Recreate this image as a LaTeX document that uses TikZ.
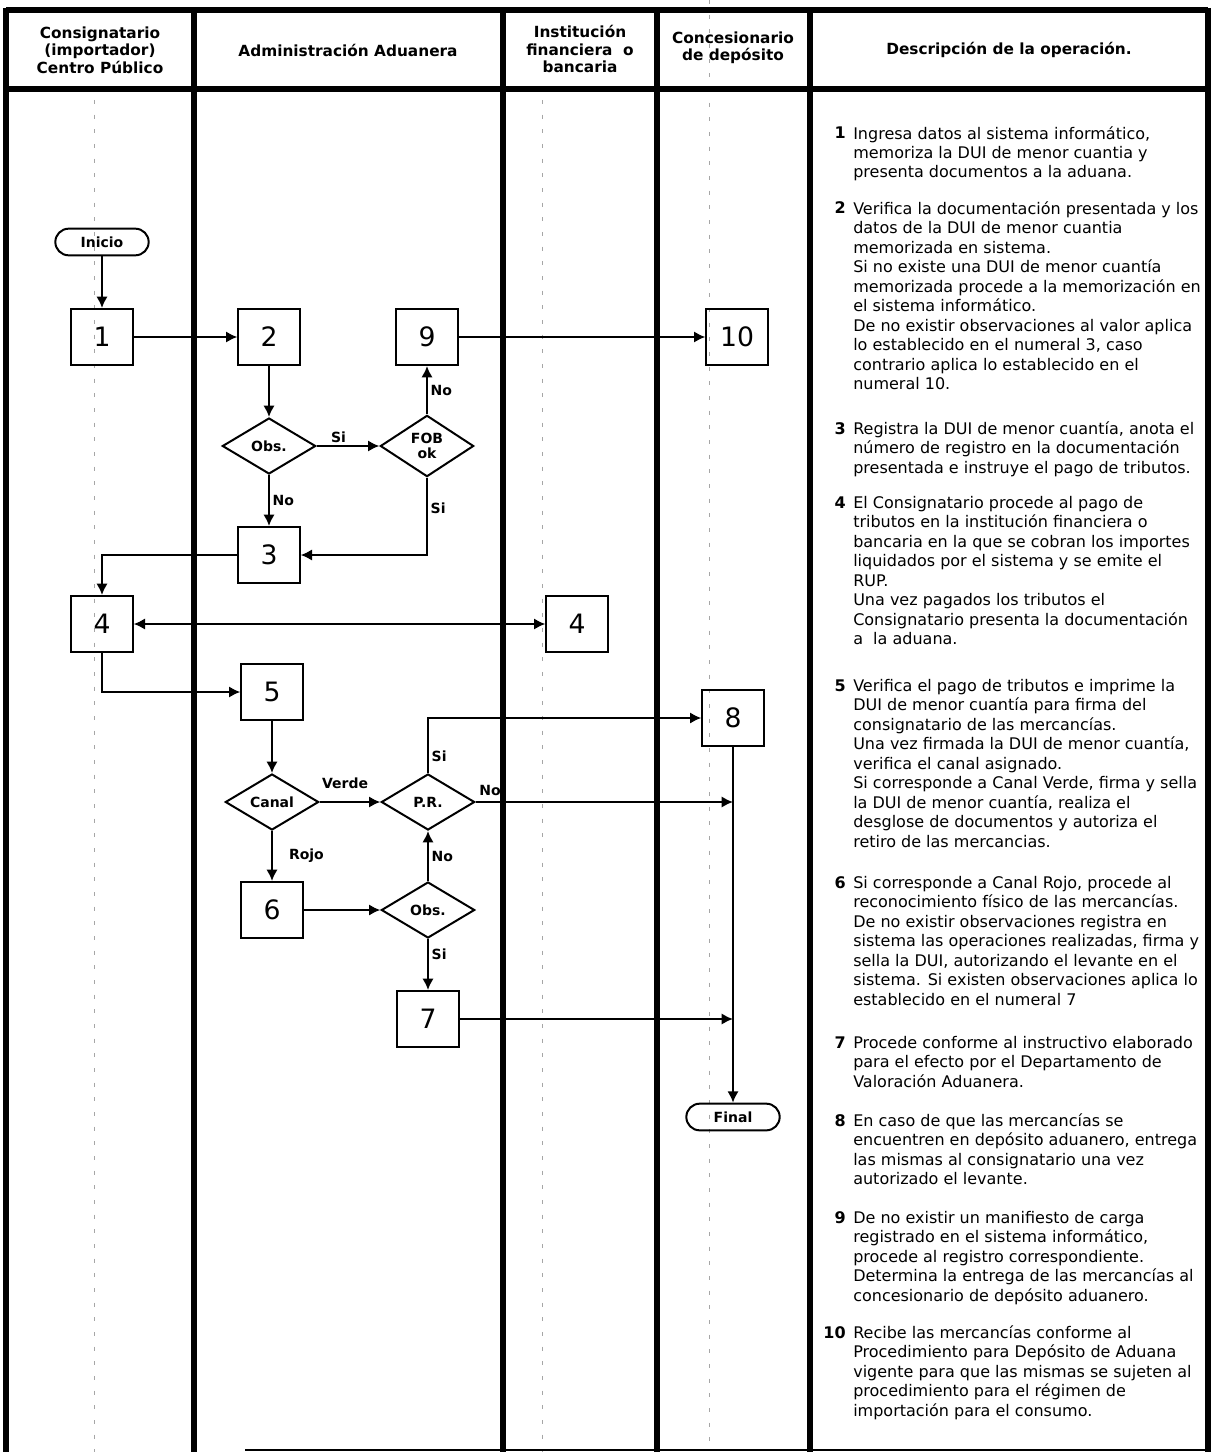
\documentclass[tikz,border=0pt]{standalone}
\usepackage{fontspec}
\setmainfont{DejaVu Sans}
\usetikzlibrary{positioning}
\usetikzlibrary{shapes.geometric}
\usetikzlibrary{arrows.meta}
\tikzset{step box/.style={rectangle,draw,line width=1.5pt,minimum width=46pt,minimum height=42pt,inner sep=0pt,font=\fontsize{20}{20}\selectfont},
  decision node/.style={diamond,draw,line width=1.5pt,minimum width=70pt,minimum height=42pt,inner sep=0pt,aspect=1.6,align=center,font=\bfseries\fontsize{10.5}{11.5}\selectfont},
  end node/.style={rectangle,rounded corners=10pt,draw,line width=1.5pt,minimum width=70pt,minimum height=20pt,inner sep=0pt,font=\bfseries\fontsize{10.5}{11}\selectfont},
  flow line/.style={->,line width=1.5pt},
  lane line/.style={line width=4pt},
  scan mark/.style={gray!70,line width=0.6pt,dash pattern=on 3pt off 8pt},
  label text/.style={font=\bfseries\fontsize{10.5}{11}\selectfont,inner sep=2pt},
  head text/.style={align=center,font=\bfseries\fontsize{11.5}{13}\selectfont},
  desc text/.style={align=left,anchor=base west,inner sep=0pt,font=\fontsize{12}{14.6}\selectfont},
  desc num/.style={anchor=base east,inner sep=0pt,font=\bfseries\fontsize{12}{14.6}\selectfont},}

\begin{document}
\begin{tikzpicture}[x=0.75pt,y=-0.75pt,>={Latex[length=8.5pt,width=8.5pt]}]
\useasboundingbox (0,0) rectangle (1212,1452);

 % lanes
 \draw[scan mark] (94,100) -- (94,1452);
 \draw[scan mark] (542,100) -- (542,1452);
 \draw[scan mark] (709,0) -- (709,1452);
 \draw[lane line] (6,10) -- (1208,10) (6,89) -- (1208,89);
 \draw[lane line] (6,8) -- (6,1452) (194,8) -- (194,1452) (503,8) -- (503,1452)
   (657,8) -- (657,1452) (810,8) -- (810,1452) (1208,8) -- (1208,1452);
 \draw[line width=0.8pt] (245,1450) -- (1208,1450);

 \node[head text] (h1) at (100,50) {Consignatario\\(importador)\\Centro Público};
 \node[head text] (h2) at (348,50) {Administración Aduanera};
 \node[head text] (h3) at (580,49) {Institución\\financiera\ \ o\\bancaria};
 \node[head text] (h4) at (733,48) {Concesionario\\de depósito};
 \node[head text] (h5) at (1009,50) {Descripción de la operación.};

 % flow
 \node[end node] (inicio) at (102,242) {Inicio};
 \node[step box] (1) at (102,337) {1};
 \node[step box] (2) at (269,337) {2};
 \node[step box] (9) at (427,337) {9};
 \node[step box] (10) at (737,337) {10};
 \node[decision node] (obs1) at (269,446) {Obs.};
 \node[decision node,minimum height=46pt] (fob) at (427,446) {FOB\\ok};
 \node[step box] (3) at (269,555) {3};
 \node[step box] (4a) at (102,624) {4};
 \node[step box] (4b) at (577,624) {4};
 \node[step box] (5) at (272,692) {5};
 \node[decision node] (canal) at (272,802) {Canal};
 \node[decision node] (pr) at (428,802) {P.R.};
 \node[step box] (6) at (272,910) {6};
 \node[decision node] (obs2) at (428,910) {Obs.};
 \node[step box] (7) at (428,1019) {7};
 \node[step box] (8) at (733,718) {8};
 \node[end node] (final) at (733,1117) {Final};
 \coordinate (j1) at (8 |- pr);
 \coordinate (j2) at (8 |- 7);

 \draw[flow line] (inicio) -- (1);
 \draw[flow line] (1) -- (2);
 \draw[flow line] (2) -- (obs1);
 \draw[flow line] (obs1) -- node[label text,above,pos=0.35] {Si} (fob);
 \draw[flow line] (fob) -- node[label text,right] {No} (9);
 \draw[flow line] (obs1) -- node[label text,right] {No} (3);
 \draw[flow line] (fob) |- node[label text,right,pos=0.2] {Si} (3);
 \draw[flow line] (9) -- (10);
 \draw[flow line] (3) -| (4a);
 \draw[<->,line width=1.5pt] (4a) -- (4b);
 \draw[flow line] (4a) |- (5);
 \draw[flow line] (5) -- (canal);
 \draw[flow line] (canal) -- node[label text,above=7pt,pos=0.42] {Verde} (pr);
 \draw[flow line] (canal) -- node[label text,right=10pt] {Rojo} (6);
 \draw[flow line] (6) -- (obs2);
 \draw[flow line] (obs2) -- node[label text,right] {No} (pr);
 \draw[flow line] (obs2) -- node[label text,right,pos=0.3] {Si} (7);
 \draw[flow line] (pr) |- node[label text,right,pos=0.15] {Si} (8);
 \draw[flow line] (pr) -- node[label text,above right,pos=0,yshift=2pt] {No} (j1);
 \draw[flow line] (7) -- (j2);
 \draw[flow line] (8) -- (final);

 % description (base = last line)
 \node[desc num] (n1) at (846,139) {1};
 \node[desc text] (d1) at (853,178) {Ingresa datos al sistema informático,\\memoriza la DUI de menor cuantia y\\presenta documentos a la aduana.};
 \node[desc num] (n2) at (846,214) {2};
 \node[desc text] (d2) at (853,389.5) {Verifica la documentación presentada y los\\datos de la DUI de menor cuantia\\memorizada en sistema.\\Si no existe una DUI de menor cuantía\\memorizada procede a la memorización en\\el sistema informático.\\De no existir observaciones al valor aplica\\lo establecido en el numeral 3, caso\\contrario aplica lo establecido en el\\numeral 10.};
 \node[desc num] (n3) at (846,434) {3};
 \node[desc text] (d3) at (853,473) {Registra la DUI de menor cuantía, anota el\\número de registro en la documentación\\presentada e instruye el pago de tributos.};
 \node[desc num] (n4) at (846,508) {4};
 \node[desc text] (d4) at (853,644.5) {El Consignatario procede al pago de\\tributos en la institución financiera o\\bancaria en la que se cobran los importes\\liquidados por el sistema y se emite el\\RUP.\\Una vez pagados los tributos el\\Consignatario presenta la documentación\\a\ \ la aduana.};
 \node[desc num] (n5) at (846,691) {5};
 \node[desc text] (d5) at (853,847) {Verifica el pago de tributos e imprime la\\DUI de menor cuantía para firma del\\consignatario de las mercancías.\\Una vez firmada la DUI de menor cuantía,\\verifica el canal asignado.\\Si corresponde a Canal Verde, firma y sella\\la DUI de menor cuantía, realiza el\\desglose de documentos y autoriza el\\retiro de las mercancias.};
 \node[desc num] (n6) at (846,888) {6};
 \node[desc text] (d6) at (853,1005) {Si corresponde a Canal Rojo, procede al\\reconocimiento físico de las mercancías.\\De no existir observaciones registra en\\sistema las operaciones realizadas, firma y\\sella la DUI, autorizando el levante en el\\sistema. Si existen observaciones aplica lo\\establecido en el numeral 7};
 \node[desc num] (n7) at (846,1048) {7};
 \node[desc text] (d7) at (853,1087) {Procede conforme al instructivo elaborado\\para el efecto por el Departamento de\\Valoración Aduanera.};
 \node[desc num] (n8) at (846,1126) {8};
 \node[desc text] (d8) at (853,1184.5) {En caso de que las mercancías se\\encuentren en depósito aduanero, entrega\\las mismas al consignatario una vez\\autorizado el levante.};
 \node[desc num] (n9) at (846,1223) {9};
 \node[desc text] (d9) at (853,1301) {De no existir un manifiesto de carga\\registrado en el sistema informático,\\procede al registro correspondiente.\\Determina la entrega de las mercancías al\\concesionario de depósito aduanero.};
 \node[desc num] (n10) at (846,1338) {10};
 \node[desc text] (d10) at (853,1416) {Recibe las mercancías conforme al\\Procedimiento para Depósito de Aduana\\vigente para que las mismas se sujeten al\\procedimiento para el régimen de\\importación para el consumo.};
\end{tikzpicture}
\end{document}
